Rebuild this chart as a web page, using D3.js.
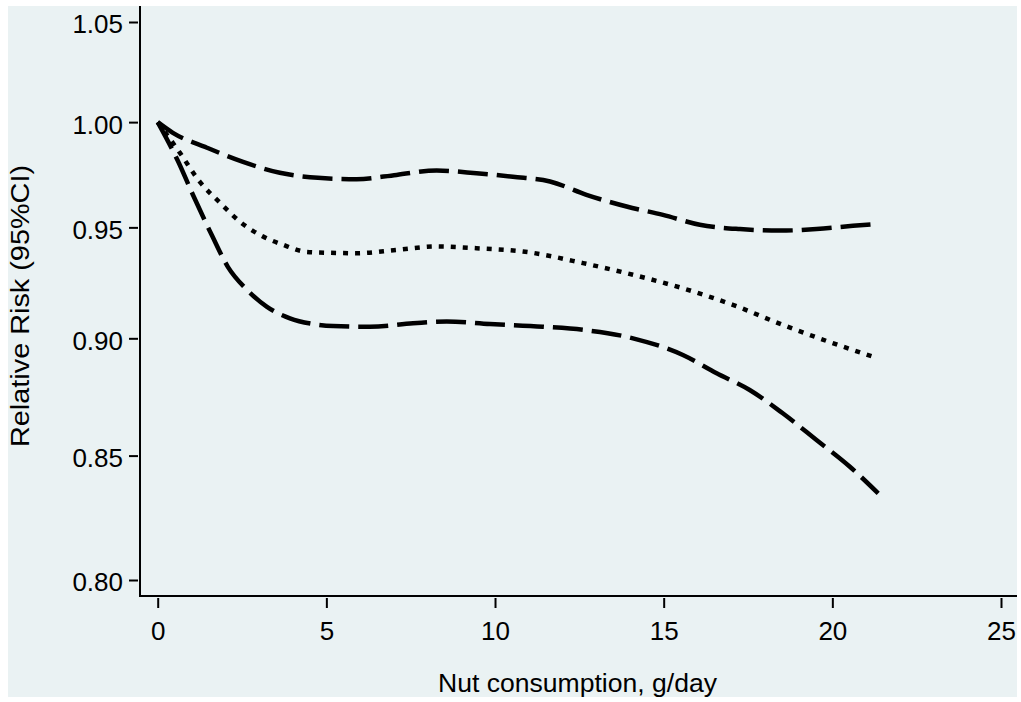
<!DOCTYPE html>
<html>
<head>
<meta charset="utf-8">
<script src="https://cdn.jsdelivr.net/npm/d3@7"></script>
<style>
  html, body { margin: 0; padding: 0; background: #ffffff; }
  svg { display: block; }
  text { font-family: "Liberation Sans", Arial, sans-serif; fill: #000; }
</style>
</head>
<body>
<svg id="chart" width="1021" height="702"></svg>
<script>
// ---- data ----
const xTicks = [0, 5, 10, 15, 20, 25];
const yTicks = [0.80, 0.85, 0.90, 0.95, 1.00, 1.05];

const upperX = [0, 0.45, 1.46, 2.53, 3.62, 4.75, 5.90, 7.08, 8.27, 9.45, 10.53, 11.63, 12.71, 13.90, 14.98, 16.07, 17.26, 18.45, 19.53, 20.61, 21.36];
const upperY = [1.000, 0.9948, 0.9876, 0.9808, 0.9756, 0.9732, 0.9726, 0.9746, 0.9767, 0.9754, 0.9737, 0.9715, 0.9652, 0.9597, 0.9558, 0.9512, 0.9492, 0.9485, 0.9492, 0.9507, 0.9516];

const midX = [0, 0.66, 1.25, 1.85, 2.44, 3.03, 3.71, 4.42, 5.11, 5.90, 7.08, 8.27, 9.45, 10.83, 12.61, 14.09, 15.57, 17.05, 18.53, 20.01, 21.26];
const midY = [1.000, 0.9851, 0.9713, 0.9614, 0.9526, 0.9465, 0.9420, 0.9387, 0.9383, 0.9381, 0.9396, 0.9412, 0.9404, 0.9389, 0.9336, 0.9283, 0.9222, 0.9148, 0.9059, 0.8979, 0.8917];

const lowerX = [0, 0.60, 1.05, 1.61, 2.08, 2.65, 3.24, 3.92, 4.60, 5.20, 6.29, 7.57, 8.57, 9.85, 11.42, 12.61, 14.09, 15.57, 16.57, 17.55, 18.53, 19.53, 20.52, 21.36];
const lowerY = [1.000, 0.9812, 0.9650, 0.9462, 0.9319, 0.9215, 0.9139, 0.9088, 0.9063, 0.9054, 0.9051, 0.9066, 0.9074, 0.9063, 0.9051, 0.9037, 0.9000, 0.8927, 0.8848, 0.8776, 0.8677, 0.8565, 0.8454, 0.8345];

const xTitle = "Nut consumption, g/day";
const yTitle = "Relative Risk (95%CI)";

// ---- drawing ----
const svg = d3.select("#chart");
const bg = "#eaf2f3";
const FONT = '"Liberation Sans", Arial, sans-serif';

svg.append("rect").attr("x", 8).attr("y", 6).attr("width", 1009).attr("height", 691).attr("fill", bg);

const x = d3.scaleLinear().domain([0, 25]).range([157.7, 1001]);
const y = d3.scaleLog().domain([0.80, 1.05]).range([580, 22]);

// axis lines
svg.append("line").attr("x1", 140).attr("x2", 140).attr("y1", 6).attr("y2", 597)
  .attr("stroke", "#000").attr("stroke-width", 2);
svg.append("line").attr("x1", 139).attr("x2", 1017).attr("y1", 596).attr("y2", 596)
  .attr("stroke", "#000").attr("stroke-width", 2);

// y axis
const gy = svg.append("g").attr("transform", "translate(138,0)")
  .call(d3.axisLeft(y).tickValues(yTicks).tickFormat(d3.format(".2f")).tickSize(9).tickPadding(6));
gy.select(".domain").remove();
gy.selectAll(".tick line").attr("stroke", "#000").attr("stroke-width", 2);
gy.selectAll(".tick text").attr("font-size", 26).attr("dy", "0.42em")
  .style("font-family", FONT).attr("fill", "#000");

// x axis
const gx = svg.append("g").attr("transform", "translate(0,598)")
  .call(d3.axisBottom(x).tickValues(xTicks).tickFormat(d3.format("d")).tickSize(10).tickPadding(14));
gx.select(".domain").remove();
gx.selectAll(".tick line").attr("stroke", "#000").attr("stroke-width", 2);
gx.selectAll(".tick text").attr("font-size", 26)
  .style("font-family", FONT).attr("fill", "#000");

// titles
svg.append("text").attr("x", 577.5).attr("y", 692).attr("text-anchor", "middle")
  .attr("font-size", 26).attr("textLength", 279).attr("lengthAdjust", "spacingAndGlyphs").text(xTitle);
svg.append("text").attr("transform", "translate(29,306) rotate(-90)").attr("text-anchor", "middle")
  .attr("font-size", 26).attr("textLength", 282).attr("lengthAdjust", "spacingAndGlyphs").text(yTitle);

// curves
const line = d3.line().x(d => x(d[0])).y(d => y(d[1])).curve(d3.curveMonotoneX);
const series = [
  { xs: upperX, ys: upperY, dash: "30,9" },
  { xs: midX, ys: midY, dash: "5,7" },
  { xs: lowerX, ys: lowerY, dash: "30,9" }
];
series.forEach(s => {
  const pts = s.xs.map((v, i) => [v, s.ys[i]]);
  svg.append("path").datum(pts).attr("d", line)
    .attr("fill", "none").attr("stroke", "#000").attr("stroke-width", 4.5)
    .attr("stroke-dasharray", s.dash).attr("stroke-linecap", "butt");
});
</script>
</body>
</html>
